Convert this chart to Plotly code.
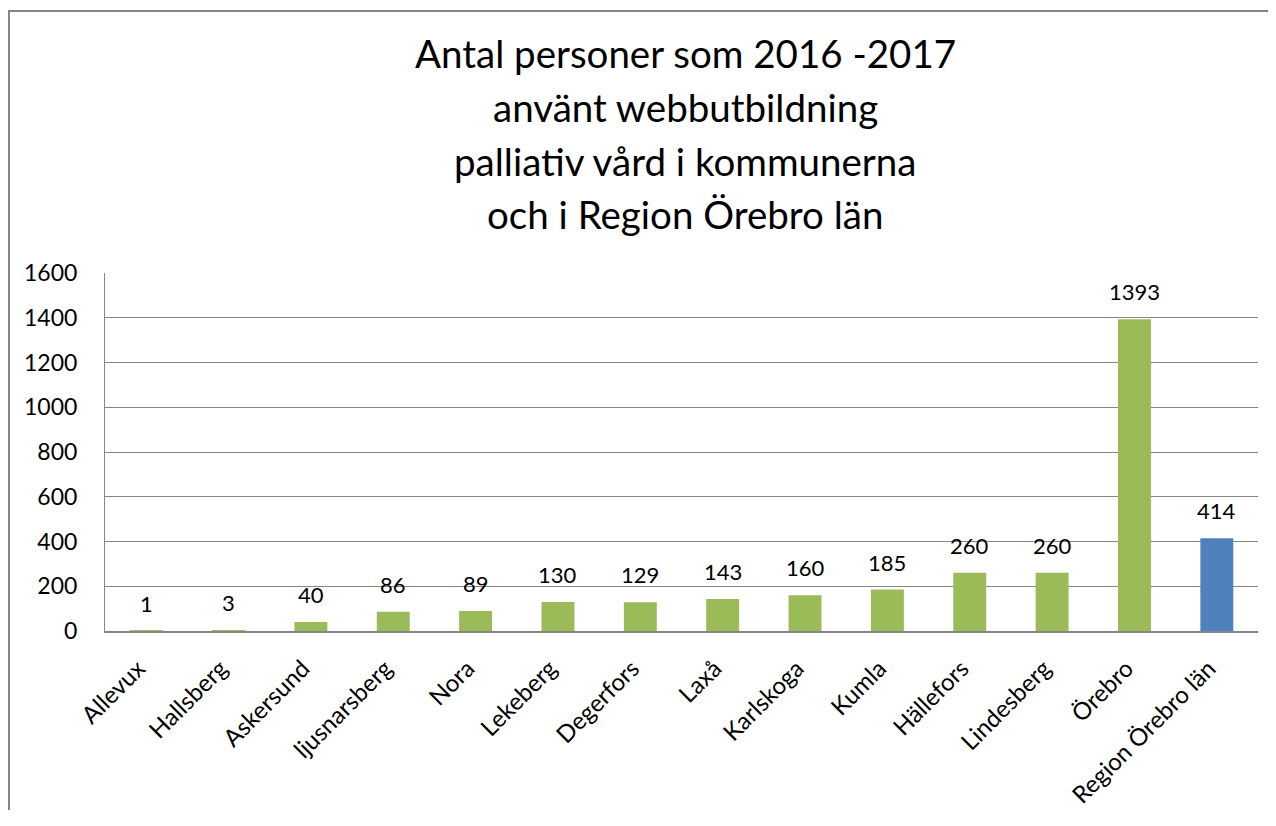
import plotly.graph_objects as go

categories = ["Allevux", "Hallsberg", "Askersund", "ljusnarsberg", "Nora", "Lekeberg",
              "Degerfors", "Laxå", "Karlskoga", "Kumla", "Hällefors", "Lindesberg",
              "Örebro", "Region Örebro län"]
values = [1, 3, 40, 86, 89, 130, 129, 143, 160, 185, 260, 260, 1393, 414]
bar_colors = ["#9BBB59"] * 13 + ["#4F81BD"]
title_lines = ["Antal personer som 2016 -2017", "använt webbutbildning",
               "palliativ vård i kommunerna", "och i Region Örebro län"]

FONT = "Lato"
OFF = 8  # page body margin
W, H = 1276 - 2 * OFF, 802
# plot area bounds in screen pixels -> figure pixels
L, R, T, B = 105 - OFF, 1258 - OFF, 273 - OFF, 631 - OFF

def px_to_paper_x(px):
    return (px - OFF - L) / (R - L)

def px_to_paper_y(py):
    return (B - (py - OFF)) / (B - T)

fig = go.Figure()
fig.add_trace(go.Bar(x=categories, y=values, marker=dict(color=bar_colors, line=dict(width=0)),
                     hoverinfo="x+y"))

annotations = []
for c, v in zip(categories, values):
    annotations.append(dict(x=c, y=v, xref="x", yref="y", text=str(v), showarrow=False,
                            yanchor="bottom", yshift=12,
                            font=dict(family=FONT, size=22, color="#000000")))

title_centers = [53, 107, 161, 214]
for line, cy in zip(title_lines, title_centers):
    annotations.append(dict(x=px_to_paper_x(685), y=px_to_paper_y(cy), xref="paper", yref="paper",
                            text=line, showarrow=False, xanchor="center", yanchor="middle",
                            font=dict(family=FONT, size=38.5, color="#000000")))

border = dict(color="#868686", width=2)
fig.update_layout(
    template="none",
    width=W, height=H,
    margin=dict(l=L, r=W - R, t=T, b=H - B, pad=0, autoexpand=False),
    paper_bgcolor="white", plot_bgcolor="white",
    bargap=0.6, showlegend=False,
    font=dict(family=FONT, color="#000000"),
    annotations=annotations,
    shapes=[
        dict(type="line", xref="paper", yref="paper",
             x0=px_to_paper_x(OFF + 1), x1=px_to_paper_x(OFF + 1),
             y0=px_to_paper_y(1000), y1=px_to_paper_y(10), line=border, layer="below"),
        dict(type="line", xref="paper", yref="paper",
             x0=px_to_paper_x(OFF), x1=px_to_paper_x(1400),
             y0=px_to_paper_y(11), y1=px_to_paper_y(11), line=border, layer="below"),
    ],
)
fig.update_xaxes(automargin=False, showgrid=False, showline=True, linecolor="#868686", linewidth=2,
                 tickangle=-45, tickfont=dict(family=FONT, size=24, color="#000000"),
                 ticks="", ticklabelstandoff=12, ticklabelshift=-8)
fig.update_yaxes(automargin=False, range=[0, 1600], dtick=200, showgrid=True, gridcolor="#868686",
                 gridwidth=1, showline=True, linecolor="#868686", linewidth=1, zeroline=False,
                 tickfont=dict(family=FONT, size=23, color="#000000"), ticks="",
                 ticklabelstandoff=22)

fig.write_html("out.html")
